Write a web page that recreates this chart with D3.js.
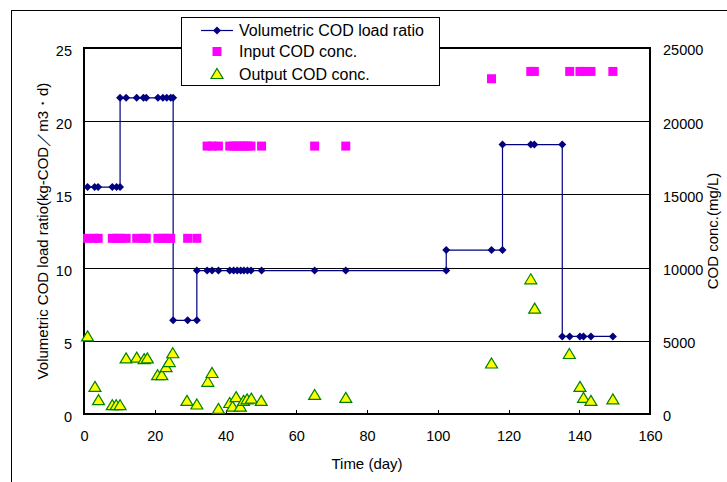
<!DOCTYPE html>
<html><head><meta charset="utf-8">
<script src="https://cdn.jsdelivr.net/npm/d3@7"></script>
<style>
body{margin:0;background:#fff}
svg text{font-family:"Liberation Sans",Arial,sans-serif;fill:#000}
</style>
</head><body>
<svg id="chart" width="727" height="482"></svg>
<script>
// ---- data ----
const xTicks = [0, 20, 40, 60, 80, 100, 120, 140, 160];
const leftTicks = [0, 5, 10, 15, 20, 25];
const rightTicks = [0, 5000, 10000, 15000, 20000, 25000];

const loadDays = [1, 3, 4, 8, 9.2, 10.2, 10.2, 11.9, 14.9, 16.8, 17.6, 20.9, 22.3, 23.4, 24.5, 25.2,
  25.2, 29.3, 31.9, 31.9, 34.8, 36.2, 38, 41.2, 42.3, 43.3, 44.3, 45.2, 46.2, 47.2, 50.2, 65.2, 74, 102.4,
  102.4, 115.2, 118.3, 118.3, 126.3, 127.3, 135.2, 135.2, 137.3, 140.2, 141.2, 143.3, 149.5];
const loadValues = [15.5, 15.5, 15.5, 15.5, 15.5, 15.5, 21.6, 21.6, 21.6, 21.6, 21.6, 21.6, 21.6, 21.6, 21.6, 21.6,
  6.4, 6.4, 6.4, 9.8, 9.8, 9.8, 9.8, 9.8, 9.8, 9.8, 9.8, 9.8, 9.8, 9.8, 9.8, 9.8, 9.8, 9.8,
  11.2, 11.2, 11.2, 18.4, 18.4, 18.4, 18.4, 5.3, 5.3, 5.3, 5.3, 5.3, 5.3];

const inputDays = [1, 3, 4, 8, 9.2, 10.2, 11.9, 14.9, 16.8, 17.6, 20.9, 22.3, 23.4, 24.5, 29.3, 31.9,
  34.8, 36.2, 38, 41.2, 42.3, 43.3, 44.3, 45.2, 46.2, 47.2, 50.2, 65.2, 74,
  115.2, 126.3, 127.3, 137.3, 140.2, 141.2, 143.3, 149.5];
const inputValues = [12000, 12000, 12000, 12000, 12000, 12000, 12000, 12000, 12000, 12000, 12000, 12000, 12000, 12000, 12000, 12000,
  18300, 18300, 18300, 18300, 18300, 18300, 18300, 18300, 18300, 18300, 18300, 18300, 18300,
  22900, 23400, 23400, 23400, 23400, 23400, 23400, 23400];

const outputDays = [1, 3.1, 4.1, 8, 9.1, 10.2, 11.9, 14.9, 17, 17.9, 20.8, 22, 23.2, 24.1, 25.1, 29.1, 31.9,
  35, 36.2, 38, 41.2, 42, 43, 44.2, 45.1, 46.1, 47.3, 50.1, 65.2, 74,
  115.2, 126.3, 127.4, 137.2, 140.2, 141.2, 143.3, 149.5];
const outputValues = [5300, 1850, 950, 600, 600, 600, 3800, 3850, 3750, 3800, 2650, 2650, 3200, 3550, 4150, 900, 650,
  2200, 2800, 350, 750, 500, 1150, 500, 900, 1000, 1050, 900, 1300, 1100,
  3450, 9200, 7200, 4100, 1850, 1100, 900, 1000];

const legendLabels = ["Volumetric COD load ratio", "Input COD conc.", "Output COD conc."];
const xTitle = "Time (day)";
const leftTitle = "Volumetric COD load ratio(kg-COD／m3・d)";
const rightTitle = "COD conc.(mg/L)";

// ---- layout ----
const L = 84, T = 48, R = 650, B = 414;
const svg = d3.select("#chart");

const x = d3.scaleLinear().domain([0, 160]).range([L, R]);
const yL = d3.scaleLinear().domain([0, 25]).range([B, T]);
const yR = d3.scaleLinear().domain([0, 25000]).range([B, T]);

// outer frame
svg.append("rect").attr("x", 11.5).attr("y", 10.5).attr("width", 900).attr("height", 700)
  .attr("fill", "#fff").attr("stroke", "#000").attr("stroke-width", 1);

// gridlines
const grid = svg.append("g").attr("transform", `translate(${L},0)`)
  .call(d3.axisLeft(yL).tickValues(leftTicks.filter(v => v > 0 && v < 25)).tickSize(-(R - L)).tickFormat(""));
grid.select(".domain").remove();
grid.selectAll("line").attr("stroke", "#000").attr("stroke-width", 1).attr("shape-rendering", "crispEdges");

// plot border
svg.append("rect").attr("x", L).attr("y", T).attr("width", R - L).attr("height", B - T)
  .attr("fill", "none").attr("stroke", "#000").attr("stroke-width", 1.3).attr("shape-rendering", "crispEdges");

// x axis
const gx = svg.append("g").attr("transform", `translate(0,${B})`)
  .call(d3.axisBottom(x).tickValues(xTicks).tickSize(-4).tickPadding(17).tickFormat(d3.format("d")));
gx.select(".domain").remove();
gx.selectAll("line").attr("stroke", "#000").attr("shape-rendering", "crispEdges");
gx.selectAll("text").style("font-size", "14.5px");

// left axis
const gl = svg.append("g").attr("transform", `translate(${L},0)`)
  .call(d3.axisLeft(yL).tickValues(leftTicks).tickSize(0).tickPadding(12));
gl.select(".domain").remove();
gl.selectAll("text").style("font-size", "14.5px").attr("dy", "0.52em");

// right axis
const gr = svg.append("g").attr("transform", `translate(${R},0)`)
  .call(d3.axisRight(yR).tickValues(rightTicks).tickSize(0).tickPadding(13).tickFormat(d3.format("d")));
gr.select(".domain").remove();
gr.selectAll("text").style("font-size", "14.5px").attr("dy", "0.48em");

// titles
svg.append("text").attr("x", (L + R) / 2).attr("y", 463).attr("text-anchor", "middle")
  .attr("dominant-baseline", "central").style("font-size", "15px").text(xTitle);
svg.append("text").attr("transform", `translate(42,${(T + B) / 2}) rotate(-90)`).attr("text-anchor", "middle")
  .attr("dominant-baseline", "central").style("font-size", "15px").text(leftTitle);
svg.append("text").attr("transform", `translate(712,${(T + B) / 2}) rotate(-90)`).attr("text-anchor", "middle")
  .attr("dominant-baseline", "central").style("font-size", "15px").text(rightTitle);

// series
const navy = "#000080";
const diamond = "M0,-4L4,0L0,4L-4,0Z";
const tri = "M0,-5.5L6,4.5L-6,4.5Z";

const loadData = loadDays.map((d, i) => [d, loadValues[i]]);
const inputData = inputDays.map((d, i) => [d, inputValues[i]]);
const outputData = outputDays.map((d, i) => [d, outputValues[i]]);

svg.append("path").datum(loadData)
  .attr("d", d3.line().x(d => x(d[0])).y(d => yL(d[1])))
  .attr("fill", "none").attr("stroke", navy).attr("stroke-width", 1.2);
svg.append("g").selectAll("path").data(loadData).join("path")
  .attr("d", diamond).attr("transform", d => `translate(${x(d[0])},${yL(d[1])})`).attr("fill", navy);

svg.append("g").selectAll("rect").data(inputData).join("rect")
  .attr("x", d => x(d[0]) - 4.5).attr("y", d => yR(d[1]) - 4.5).attr("width", 9).attr("height", 9)
  .attr("fill", "#ff00ff");

svg.append("g").selectAll("path").data(outputData).join("path")
  .attr("d", tri).attr("transform", d => `translate(${x(d[0])},${yR(d[1])})`)
  .attr("fill", "#ffff00").attr("stroke", "#008000").attr("stroke-width", 1.2);

// legend
const lg = svg.append("g");
lg.append("rect").attr("x", 181.5).attr("y", 17.5).attr("width", 258).attr("height", 68)
  .attr("fill", "#fff").attr("stroke", "#000").attr("stroke-width", 1);
const ly = [30.5, 51.5, 74];
lg.append("line").attr("x1", 201).attr("x2", 233).attr("y1", ly[0]).attr("y2", ly[0]).attr("stroke", navy).attr("stroke-width", 1.2);
lg.append("path").attr("d", diamond).attr("transform", `translate(217,${ly[0]})`).attr("fill", navy);
lg.append("rect").attr("x", 217 - 4.5).attr("y", ly[1] - 4.5).attr("width", 9).attr("height", 9).attr("fill", "#ff00ff");
lg.append("path").attr("d", tri).attr("transform", `translate(217,${ly[2]})`)
  .attr("fill", "#ffff00").attr("stroke", "#008000").attr("stroke-width", 1.2);
lg.selectAll("text.lbl").data(legendLabels).join("text").attr("class", "lbl")
  .attr("x", 239).attr("y", (d, i) => ly[i]).attr("dominant-baseline", "central")
  .style("font-size", "16px").text(d => d);
</script>
</body></html>
